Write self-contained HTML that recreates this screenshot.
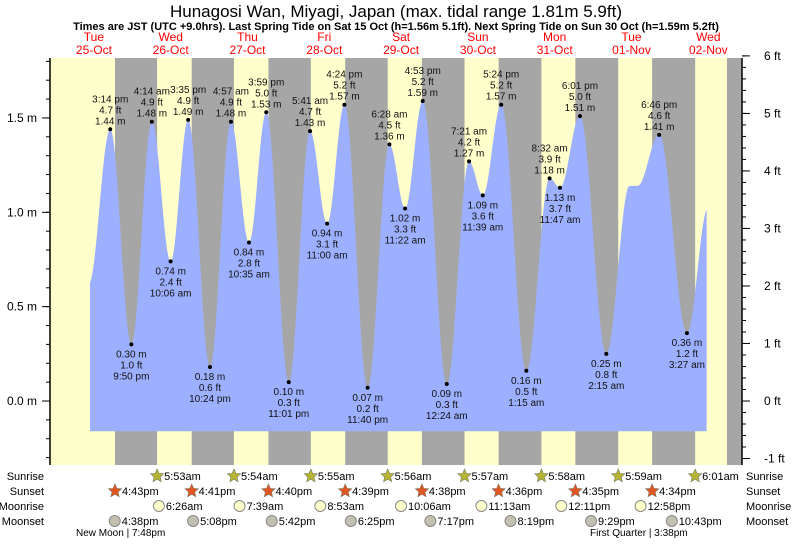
<!DOCTYPE html>
<html><head><meta charset="utf-8"><style>
body{margin:0;background:#fff;width:793px;height:539px;overflow:hidden}
svg{font-family:"Liberation Sans",sans-serif}
</style></head><body>
<svg id="c" width="793" height="539" xmlns="http://www.w3.org/2000/svg">
<text x="396" y="17" font-size="17" text-anchor="middle">Hunagosi Wan, Miyagi, Japan (max. tidal range 1.81m 5.9ft)</text>
<text x="396" y="30" font-size="11" font-weight="bold" text-anchor="middle">Times are JST (UTC +9.0hrs). Last Spring Tide on Sat 15 Oct (h=1.56m 5.1ft). Next Spring Tide on Sun 30 Oct (h=1.59m 5.2ft)</text>
<g id="bg"></g><g id="tide"></g><g id="axes"></g><g id="labels"></g><g id="bottom"></g>
</svg>
<script>
const NS="http://www.w3.org/2000/svg";
// data (hours since midnight 25-Oct, height m)
const extremeHours=[8.5,15.23,21.83,28.23,34.1,39.58,46.4,52.95,58.58,63.98,71.02,77.68,83,88.4,95.67,102.47,107.37,112.88,120.4,127.35,131.65,137.4,145.25,152.53,155.78,162.02,170.25,177.5,180.0,186.77,195.45,202.0];
const extremeHeights=[0.62,1.44,0.30,1.48,0.74,1.49,0.18,1.48,0.84,1.53,0.10,1.43,0.94,1.57,0.07,1.36,1.02,1.59,0.09,1.27,1.09,1.57,0.16,1.18,1.13,1.51,0.25,1.14,1.14,1.41,0.36,1.02];
const extremeLabels=["","3:14 pm","9:50 pm","4:14 am","10:06 am","3:35 pm","10:24 pm","4:57 am","10:35 am","3:59 pm","11:01 pm","5:41 am","11:00 am","4:24 pm","11:40 pm","6:28 am","11:22 am","4:53 pm","12:24 am","7:21 am","11:39 am","5:24 pm","1:15 am","8:32 am","11:47 am","6:01 pm","2:15 am","","","6:46 pm","3:27 am",""];
const dayNames=["Tue","Wed","Thu","Fri","Sat","Sun","Mon","Tue","Wed"];
const dayDates=["25-Oct","26-Oct","27-Oct","28-Oct","29-Oct","30-Oct","31-Oct","01-Nov","02-Nov"];
const sunsetH=[16.72,16.68,16.67,16.65,16.63,16.6,16.58,16.57];
const sunriseH=[5.88,5.9,5.92,5.93,5.95,5.97,5.98,6.02];
const sunriseTxt=["5:53am","5:54am","5:55am","5:56am","5:57am","5:58am","5:59am","6:01am"];
const sunsetTxt=["4:43pm","4:41pm","4:40pm","4:39pm","4:38pm","4:36pm","4:35pm","4:34pm"];
const moonriseH=[30.43,55.65,80.88,106.1,131.22,156.18,180.97];
const moonriseTxt=["6:26am","7:39am","8:53am","10:06am","11:13am","12:11pm","12:58pm"];
const moonsetH=[16.63,41.13,65.7,90.42,115.28,140.32,165.48,190.72];
const moonsetTxt=["4:38pm","5:08pm","5:42pm","6:25pm","7:17pm","8:19pm","9:29pm","10:43pm"];
const mTicks=[0,0.5,1.0,1.5];
const ftTicks=[-1,0,1,2,3,4,5,6];
const startH=8.9,endH=201.6;
const X=h=>61.5+h*3.2;
const Y=m=>401-m*188.7;
const L=50,R=742,T=58,B=465;
function el(p,t,a,txt){const e=document.createElementNS(NS,t);for(const k in a)e.setAttribute(k,a[k]);if(txt!==undefined)e.textContent=txt;document.getElementById(p).appendChild(e);return e;}
let e=el("bg","rect",{x:L,y:T,width:R-L,height:B-T,fill:"#ffffcc"});

for(let i=0;i<sunsetH.length;i++){const x1=X(i*24+sunsetH[i]),x2=X((i+1)*24+sunriseH[i]);
 e=el("bg","rect",{x:x1,y:T,width:x2-x1,height:B-T,fill:"#a6a6a6"});
 }
e=el("bg","rect",{x:727,y:T,width:R-727,height:B-T,fill:"#a6a6a6"});

function tideAt(h){for(let i=0;i<extremeHours.length-1;i++){const a=extremeHours[i],b=extremeHours[i+1];if(h>=a&&h<=b){const f=(1-Math.cos(Math.PI*(h-a)/(b-a)))/2;return extremeHeights[i]+(extremeHeights[i+1]-extremeHeights[i])*f;}}return extremeHeights[extremeHeights.length-1];}
let d="M"+X(startH)+","+Y(-0.16);
for(let h=startH;h<=endH;h+=0.25)d+=" L"+X(h).toFixed(1)+","+Y(tideAt(h)).toFixed(1);
d+=" L"+X(endH)+","+Y(tideAt(endH))+" L"+X(endH)+","+Y(-0.16)+"Z";
e=el("tide","path",{d:d,fill:"#9db0ff"});

el("axes","line",{x1:L,y1:T,x2:L,y2:B,stroke:"#000","stroke-width":1.5});
el("axes","line",{x1:R,y1:T,x2:R,y2:B,stroke:"#000","stroke-width":1.5});
for(let m=-0.3;m<=1.81;m+=0.1){const y=Y(m);el("axes","line",{x1:L-4,y1:y,x2:L,y2:y,stroke:"#000"});}
mTicks.forEach(m=>{el("axes","line",{x1:L-8,y1:Y(m),x2:L,y2:Y(m),stroke:"#000"});
 e=el("axes","text",{x:L-13,y:Y(m)+4,"font-size":12,"text-anchor":"end"},m.toFixed(1)+" m");
 });
for(let f=-1;f<=6.01;f+=0.2){const y=Y(f*0.3048);el("axes","line",{x1:R,y1:y,x2:R+4,y2:y,stroke:"#000"});}
ftTicks.forEach(f=>{const y=Y(f*0.3048);el("axes","line",{x1:R,y1:y,x2:R+8,y2:y,stroke:"#000"});
 e=el("axes","text",{x:764,y:y+4,"font-size":12},f+" ft");
 });
dayNames.forEach((n,i)=>{const x=X(i*24+12)-6;
 e=el("labels","text",{x:x,y:41,"font-size":12,fill:"#ff0000","text-anchor":"middle"},n);
 
 e=el("labels","text",{x:x,y:54,"font-size":12,fill:"#ff0000","text-anchor":"middle"},dayDates[i]);
 });
for(let i=0;i<extremeHours.length;i++){if(!extremeLabels[i])continue;
 const x=X(extremeHours[i]),y=Y(extremeHeights[i]),m=extremeHeights[i],ft=(m/0.3048).toFixed(1);
 e=el("labels","circle",{cx:x,cy:y,r:2,fill:"#000"});
 
 const hi=i>0&&m>extremeHeights[i-1];
 const lines=hi?[extremeLabels[i],ft+" ft",m.toFixed(2)+" m"]:[m.toFixed(2)+" m",ft+" ft",extremeLabels[i]];
 lines.forEach((t,j)=>{const yy=hi?y-27+j*11:y+13+j*11;
  e=el("labels","text",{x:x,y:yy,"font-size":10,fill:"#111","text-anchor":"middle"},t);
  });}
const rows=["Sunrise","Sunset","Moonrise","Moonset"],ry=[480,495,510,525];
rows.forEach((r,i)=>{e=el("bottom","text",{x:44,y:ry[i],"font-size":11,"text-anchor":"end"},r);
 
 e=el("bottom","text",{x:746,y:ry[i],"font-size":11},r);
 });
function star(cx,cy,fill){let p="";for(let k=0;k<10;k++){const r=k%2?3.2:7,a=-Math.PI/2+k*Math.PI/5;p+=(cx+r*Math.cos(a)).toFixed(1)+","+(cy+r*Math.sin(a)).toFixed(1)+" ";}return el("bottom","polygon",{points:p,fill:fill,stroke:"#776",'stroke-width':0.6});}
function item(h,rowi,txt,kind){const x=X(h),y=ry[rowi]-4;
 if(kind==="rise")e=star(x,y,"#b5b533");else if(kind==="set")e=star(x,y,"#e05522");
 else e=el("bottom","circle",{cx:x,cy:y,r:5.5,fill:kind==="mr"?"#ffffcc":"#c4c0b0",stroke:"#888"});
 
 e=el("bottom","text",{x:x+7,y:ry[rowi],"font-size":11},txt);
 }
sunriseH.forEach((h,i)=>item((i+1)*24+h,0,sunriseTxt[i],"rise"));
sunsetH.forEach((h,i)=>item(i*24+h,1,sunsetTxt[i],"set"));
moonriseH.forEach((h,i)=>item(h,2,moonriseTxt[i],"mr"));
moonsetH.forEach((h,i)=>item(h,3,moonsetTxt[i],"ms"));
e=el("bottom","text",{x:76,y:536,"font-size":10},"New Moon | 7:48pm");

e=el("bottom","text",{x:590,y:536,"font-size":10},"First Quarter | 3:38pm");

</script>
</body></html>
